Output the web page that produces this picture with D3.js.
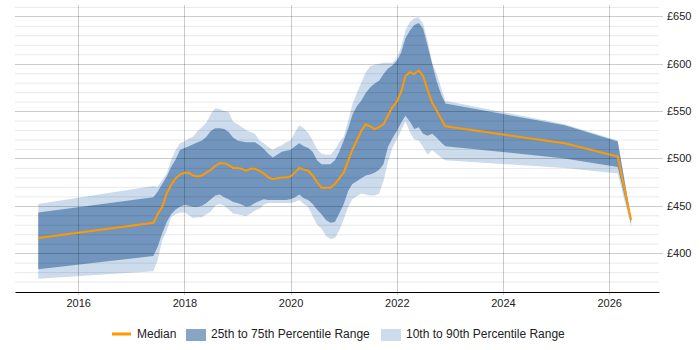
<!DOCTYPE html>
<html><head><meta charset="utf-8">
<script src="https://cdn.jsdelivr.net/npm/d3@7/dist/d3.min.js"></script>
<style>
body{margin:0;background:#fff;}
svg text{font-family:"Liberation Sans",Arial,sans-serif;}
</style></head>
<body><svg id="c" width="700" height="350"></svg>
<script>
const dates = ["2015-04","2017-06","2017-07","2017-08","2017-09","2017-10","2017-11","2017-12",
"2018-01","2018-02","2018-03","2018-04","2018-05","2018-06","2018-07","2018-08","2018-09","2018-10","2018-11","2018-12",
"2019-01","2019-02","2019-03","2019-04","2019-05","2019-06","2019-07","2019-08","2019-09","2019-10","2019-11","2019-12",
"2020-01","2020-02","2020-03","2020-04","2020-05","2020-06","2020-07","2020-08","2020-09","2020-10","2020-11","2020-12",
"2021-01","2021-02","2021-03","2021-04","2021-05","2021-06","2021-07","2021-08","2021-09","2021-10","2021-11","2021-12",
"2022-01","2022-02","2022-03","2022-04","2022-05","2022-06","2022-07","2022-08","2022-09","2022-10","2022-11","2022-12",
"2025-03","2026-03","2026-06"];
const median = [416,432,441,449,463,472,479,483,
485,485,482,481,482,485,488,492,495,495,493,490,
490,489,487,489,489,487,484,480,478,479,480,480,
481,485,490,488,487,482,475,469,469,469,473,479,
485,498,509,519,529,536,534,531,533,536,545,554,
560,571,587,591,589,593,587,572,559,551,542,534,
516,502,435];
const p25 = [383,397,407,421,433,441,446,449,
451,450,449,449,450,453,457,461,462,459,457,454,
453,451,449,450,453,455,457,456,456,456,456,456,
457,459,462,458,456,452,446,441,435,432,433,442,
452,466,473,476,479,482,483,485,488,494,512,521,
529,538,545,539,531,533,526,524,526,522,517,513,
500,491,431];
const p75 = [443,459,465,473,481,491,499,509,
511,513,515,517,519,523,529,532,532,531,528,522,
519,518,517,517,517,514,510,505,501,504,507,508,
509,513,516,513,511,507,498,494,494,494,498,507,
519,532,546,555,561,569,575,579,582,589,595,598,
603,612,627,635,641,643,637,619,600,582,568,558,
535,518,436];
const p10 = [373,381,393,414,424,438,441,443,
443,440,437,438,438,441,444,450,452,450,446,442,
441,440,439,442,445,447,451,453,453,453,453,453,
453,454,456,452,449,439,430,426,418,415,416,424,
436,449,457,460,463,462,461,461,463,476,496,511,
520,530,539,528,520,519,512,504,509,505,501,498,
490,484,428];
const p90 = [452,471,470,477,484,498,509,516,
518,521,523,529,533,538,547,553,552,550,549,539,
536,533,530,528,526,519,516,512,509,512,514,517,
519,528,535,532,527,519,510,505,504,504,509,517,
523,540,557,569,580,591,597,599,600,601,601,601,
606,618,635,644,648,649,642,624,601,590,575,561,
536,519,437];
const yTicks = [400,450,500,550,600,650];
const xTickYears = [2016,2018,2020,2022,2024,2026];

const parse = d3.timeParse("%Y-%m");
const data = dates.map((d,i)=>({d:parse(d),m:median[i],q1:p25[i],q3:p75[i],lo:p10[i],hi:p90[i]}));

const svg = d3.select("#c");
const L=15, R=659, T=5, B=292;
const x = d3.scaleTime().domain([new Date(2014,9,23), new Date(2026,11,10)]).range([L,R]);
const y = d3.scaleLinear().domain([359,662]).range([B,T]);

// bands
svg.append("path").datum(data)
  .attr("d", d3.area().x(d=>x(d.d)).y0(d=>y(d.lo)).y1(d=>y(d.hi)))
  .attr("fill","#ccdcec");
svg.append("path").datum(data)
  .attr("d", d3.area().x(d=>x(d.d)).y0(d=>y(d.q1)).y1(d=>y(d.q3)))
  .attr("fill","#7195bd");

// grid
const minor = d3.range(370,661,10).filter(v=>v%50!==0);
svg.append("g").selectAll("line").data(minor).join("line")
  .attr("x1",L).attr("x2",R).attr("y1",d=>y(d)+0.5).attr("y2",d=>y(d)+0.5)
  .attr("stroke","#000").attr("stroke-opacity",0.09);
svg.append("g").selectAll("line").data(yTicks).join("line")
  .attr("x1",L).attr("x2",R+4).attr("y1",d=>Math.round(y(d))+0.5).attr("y2",d=>Math.round(y(d))+0.5)
  .attr("stroke","#000").attr("stroke-opacity",0.2);
svg.append("g").selectAll("line").data(xTickYears).join("line")
  .attr("x1",d=>Math.round(x(new Date(d,0,1)))+0.5).attr("x2",d=>Math.round(x(new Date(d,0,1)))+0.5)
  .attr("y1",T).attr("y2",B+3)
  .attr("stroke","#000").attr("stroke-opacity",0.2);

// median
svg.append("path").datum(data)
  .attr("d", d3.line().x(d=>x(d.d)).y(d=>y(d.m)))
  .attr("fill","none").attr("stroke","#ff9900").attr("stroke-width",2);

// x axis
const xAxis = d3.axisBottom(x).tickValues(xTickYears.map(v=>new Date(v,0,1)))
  .tickFormat(d3.timeFormat("%Y")).tickSize(0).tickPadding(7);
const gx = svg.append("g").attr("transform",`translate(0,${B})`).call(xAxis);
gx.select(".domain").attr("stroke","#000").attr("stroke-width",1.2);
gx.selectAll("text").attr("font-size",11).attr("fill","#222");

// y axis right
const yAxis = d3.axisRight(y).tickValues(yTicks).tickFormat(d=>"£"+d).tickSize(0).tickPadding(8);
const gy = svg.append("g").attr("transform",`translate(${R},0)`).call(yAxis);
gy.select(".domain").remove();
gy.selectAll("text").attr("font-size",11).attr("fill","#222");

// legend
const lg = svg.append("g").attr("font-size",12).attr("fill","#222");
lg.append("line").attr("x1",112).attr("x2",131).attr("y1",334).attr("y2",334)
  .attr("stroke","#ff9900").attr("stroke-width",3);
lg.append("text").attr("x",137).attr("y",338).text("Median");
lg.append("rect").attr("x",186).attr("y",329).attr("width",20).attr("height",12).attr("fill","#7195bd").attr("opacity",0.85);
lg.append("text").attr("x",211).attr("y",338).text("25th to 75th Percentile Range");
lg.append("rect").attr("x",381).attr("y",329).attr("width",20).attr("height",12).attr("fill","#ccdcec");
lg.append("text").attr("x",406).attr("y",338).text("10th to 90th Percentile Range");
</script></body></html>
